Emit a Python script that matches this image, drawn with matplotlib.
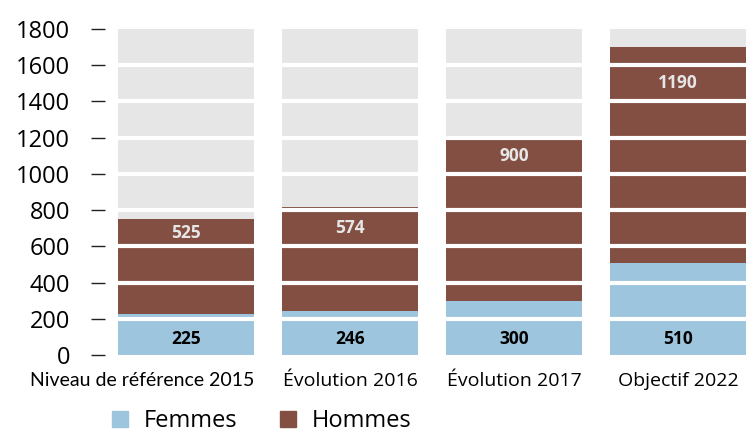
import numpy as np
import matplotlib
matplotlib.use('Agg')
import matplotlib.pyplot as plt
from matplotlib.patches import Patch

plt.rcParams['font.family'] = ['Open Sans', 'DejaVu Sans']

# data
categories = ['Niveau de référence 2015', 'Évolution 2016', 'Évolution 2017', 'Objectif 2022']
femmes = [225, 246, 300, 510]
hommes = [525, 574, 900, 1190]
yticks = [0, 200, 400, 600, 800, 1000, 1200, 1400, 1600, 1800]

c_gray = '#E6E6E6'
c_f = '#9DC5DE'
c_h = '#844F43'

fig = plt.figure(figsize=(7.49, 4.32), dpi=100)
ax = fig.add_axes([0.1575, 0.178, 0.839, 0.755])

x = np.arange(len(categories))
w = 0.83
ymax = yticks[-1]

ax.bar(x, [ymax] * len(x), width=w, color=c_gray, zorder=1)
ax.bar(x, femmes, width=w, color=c_f, zorder=2)
ax.bar(x, hommes, width=w, bottom=femmes, color=c_h, zorder=2)

# white separators over the bars
for t in yticks[1:-1]:
    ax.axhline(t, color='white', lw=3, zorder=3)

# value labels
for i in x:
    ax.text(i, 90, str(femmes[i]), ha='center', va='center', fontsize=12.5,
            fontweight='bold', color='black', zorder=4)
    top = femmes[i] + hommes[i]
    lo = np.floor((top - 150) / 200) * 200
    ly = min(lo + 100, (lo + top) / 2)
    ax.text(i, ly, str(hommes[i]), ha='center', va='center', fontsize=12.5,
            fontweight='bold', color='#E6E6E6', zorder=4)

ax.set_xlim(-0.415, 3.415)
ax.set_ylim(0, ymax)
ax.set_yticks(yticks)
ax.tick_params(axis='y', length=10, width=1, pad=15, labelsize=17, color='#222222')
ax.set_xticks([])
for s in ax.spines.values():
    s.set_visible(False)
ax.spines['left'].set_position(('outward', 9.4))

# category labels (first one is narrower and right-aligned on its bar)
trans = ax.get_xaxis_transform()
for i, lab in enumerate(categories):
    if i == 0:
        ax.text(i + w / 2, -0.052, lab, transform=trans, ha='right', va='top',
                fontsize=14, family=['Lato', 'Open Sans'])
    else:
        ax.text(i, -0.052, lab, transform=trans, ha='center', va='top', fontsize=14)

handles = [Patch(color=c_f, label='Femmes'), Patch(color=c_h, label='Hommes')]
fig.legend(handles=handles, loc='lower center', bbox_to_anchor=(0.35, -0.052), ncol=2,
           frameon=False, fontsize=17, handlelength=0.65, handleheight=0.65,
           columnspacing=1.8, handletextpad=0.7)

fig.savefig('out.png', dpi=100)
